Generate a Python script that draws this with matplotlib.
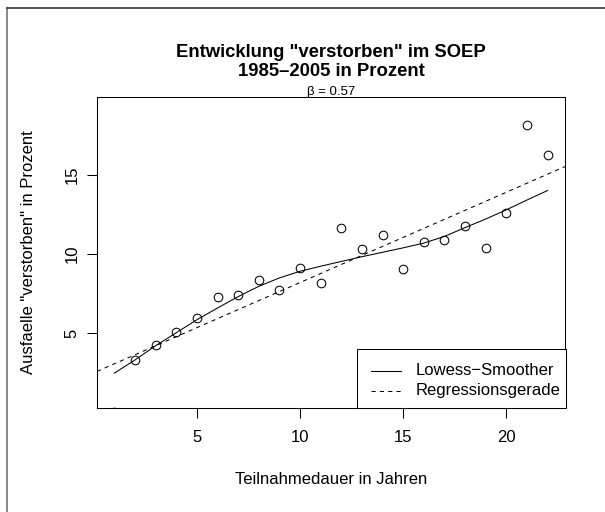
import numpy as np
import matplotlib
matplotlib.use("Agg")
import matplotlib.pyplot as plt
from matplotlib.lines import Line2D
from matplotlib.patches import Rectangle

plt.rcParams['font.family'] = ['Liberation Sans', 'DejaVu Sans']

# Teilnahmedauer (Jahre) und Ausfaelle "verstorben" in Prozent
jahre = [1, 2, 3, 4, 5, 6, 7, 8, 9, 10, 11,
         12, 13, 14, 15, 16, 17, 18, 19, 20, 21, 22]
prozent = [0.0, 3.31, 4.22, 5.04, 5.95, 7.27, 7.42, 8.36, 7.73, 9.10, 8.15,
           11.63, 10.28, 11.16, 9.06, 10.72, 10.85, 11.73, 10.34, 12.55, 18.15, 16.24]

# lowess fit
lowess_y = [2.47, 3.30, 4.20, 5.02, 5.84, 6.58, 7.30, 7.95, 8.48, 8.90, 9.22,
            9.52, 9.82, 10.10, 10.38, 10.68, 11.10, 11.66, 12.20, 12.78, 13.40, 14.00]

# Regressionsgerade
intercept = 2.49
beta = 0.57

legend_labels = ['Lowess\u2212Smoother', 'Regressionsgerade']

W, H = 605, 512
fig = plt.figure(figsize=(W / 100, H / 100), dpi=100)
ax = fig.add_axes([97 / W, 1 - 408 / H, (565 - 97) / W, (408 - 97) / H])

lw = 0.75
fs = 12
dash = (4, 4)
ax.plot(jahre, prozent, linestyle='none', marker='o', markersize=6.2,
        markerfacecolor='none', markeredgecolor='black', markeredgewidth=lw,
        clip_on=True)
ax.plot(jahre, lowess_y, color='black', linewidth=lw)
ax.axline((0, intercept), slope=beta, color='black', linewidth=lw, dashes=dash)

ax.set_xlim(0.16, 22.84)
ax.set_ylim(0.27, 19.9)
ax.set_xticks([5, 10, 15, 20])
ax.set_yticks([5, 10, 15])
ax.tick_params(direction='out', length=7.2, width=lw, labelsize=fs)
ax.tick_params(axis='x', pad=8.5)
ax.tick_params(axis='y', pad=5.2)
for lbl in ax.get_yticklabels():
    lbl.set_rotation(90)
    lbl.set_va('center')
for s in ax.spines.values():
    s.set_linewidth(lw)

cx = 0.5 * (97 + 565) / W
cy = 1 - 0.5 * (97 + 408) / H
fig.text(cx, 1 - 484 / H, 'Teilnahmedauer in Jahren', ha='center',
         va='baseline', fontsize=fs)
fig.text(33 / W, cy, 'Ausfaelle "verstorben" in Prozent', ha='center',
         va='baseline', rotation=90, rotation_mode='anchor', fontsize=fs)

# legend box (bottom right, like R's legend("bottomright"))
fig.add_artist(Rectangle((357 / W, 1 - 408 / H), (565.5 - 357) / W, (408 - 349) / H,
                         transform=fig.transFigure, facecolor='white',
                         edgecolor='black', linewidth=lw))
for i, lab in enumerate(legend_labels):
    yy = 1 - (370.7 + 20 * i) / H
    fig.add_artist(Line2D([371 / W, 401 / W], [yy, yy], transform=fig.transFigure,
                          color='black', linewidth=lw,
                          dashes=dash if i == 1 else (None, None)))
    fig.text(415.7 / W, yy, lab, ha='left', va='center', fontsize=fs)

fig.text(cx, 1 - 56.7 / H, 'Entwicklung "verstorben" im SOEP',
         ha='center', va='baseline', fontsize=13.3, fontweight='bold')
fig.text(cx, 1 - 76 / H, '1985\u20132005 in Prozent',
         ha='center', va='baseline', fontsize=13.3, fontweight='bold')
fig.text(cx, 1 - 95 / H, '\u03b2 = %.2f' % beta,
         ha='center', va='baseline', fontsize=9.5)

# page border (left and top only)
fig.add_artist(Line2D([7 / W, 7 / W], [0, 1 - 8 / H], transform=fig.transFigure,
                      color='0.45', linewidth=1.2))
fig.add_artist(Line2D([7 / W, 1], [1 - 8 / H, 1 - 8 / H], transform=fig.transFigure,
                      color='0.2', linewidth=1.2))

fig.savefig('out.png', dpi=100)
